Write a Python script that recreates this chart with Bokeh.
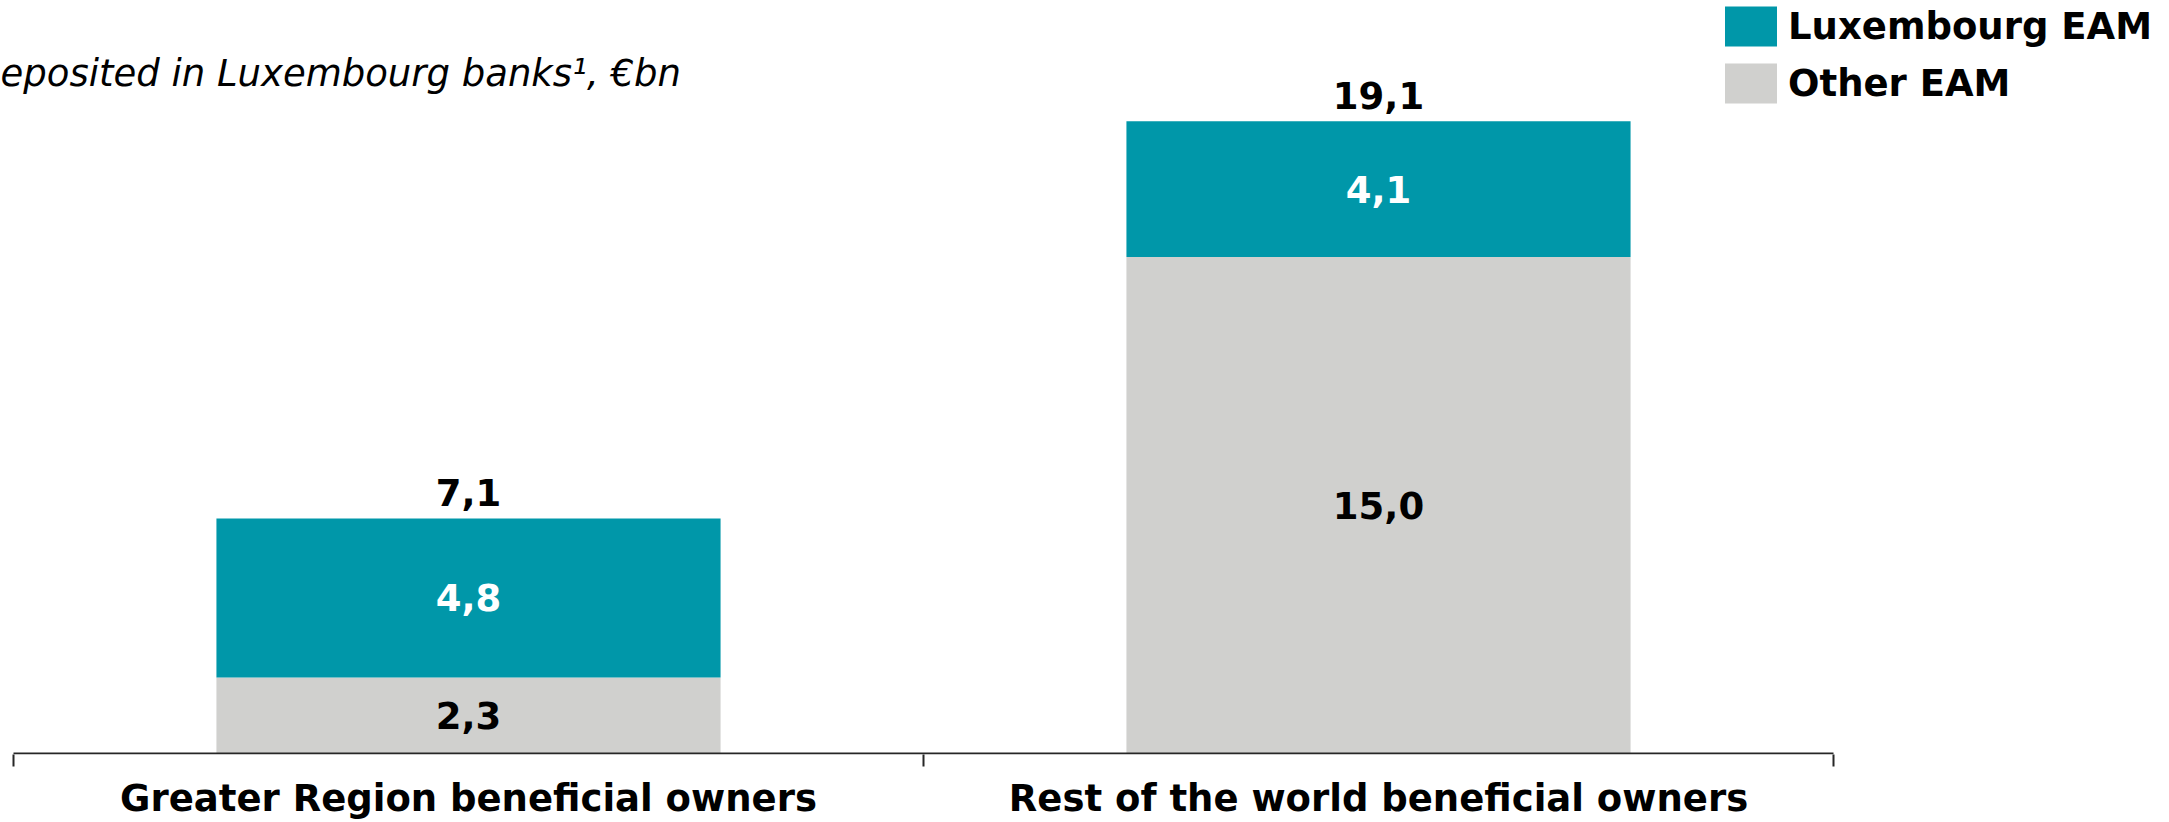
from bokeh.plotting import figure
from bokeh.models import (ColumnDataSource, Range1d, FixedTicker, Legend,
                          LegendItem, Label)
from bokeh.core.properties import value
from bokeh.embed import file_html
from bokeh.resources import INLINE

# ---------------- data ----------------
categories = ["Greater Region beneficial owners",
              "Rest of the world beneficial owners"]
series_names = ["Luxembourg EAM", "Other EAM"]
other_eam = [2.3, 15.0]
lux_eam = [4.8, 4.1]
totals = [7.1, 19.1]
subtitle = "eposited in Luxembourg banks\u00b9, \u20acbn"

# ---------------- style ----------------
TEAL = "#0097A9"
GRAY = "#D0D0CE"
AXIS = "#262626"
FONT = "DejaVu Sans"

W, H = 2169, 822
BOTTOM = 67
PX_Y = 33.14          # pixels per €bn
PX_X = 910            # pixels per category
X_OFF = 13
frame_h = H - BOTTOM
ys = -1.0 / PX_Y
xs0 = -X_OFF / PX_X


def fmt(v):
    return f"{v:.1f}".replace(".", ",")


xpos = [i + 0.5 for i in range(len(categories))]

src = ColumnDataSource(dict(
    x=xpos, other=other_eam, lux=lux_eam,
    tot=totals, tot_txt=[fmt(v) for v in totals],
    lux_mid=[o + l / 2 for o, l in zip(other_eam, lux_eam)],
    lux_txt=[fmt(v) for v in lux_eam],
    oth_mid=[o / 2 for o in other_eam],
    oth_txt=[fmt(v) for v in other_eam],
))

p = figure(width=W, height=H, output_backend="svg", toolbar_location=None,
           x_range=Range1d(xs0, xs0 + W / PX_X),
           y_range=Range1d(ys, ys + frame_h / PX_Y),
           y_axis_location=None,
           min_border_left=0, min_border_right=0, min_border_top=0,
           min_border_bottom=BOTTOM)
p.outline_line_color = None
p.xgrid.visible = False
p.ygrid.visible = False
p.background_fill_color = "white"

bars = p.vbar_stack(["other", "lux"], x="x", width=0.554, source=src,
                    color=[GRAY, TEAL], line_color=None)

# baseline
p.segment(x0=[0], y0=[0], x1=[len(categories)], y1=[0],
          line_color=AXIS, line_width=2)

# value labels
common = dict(text_font=value(FONT), text_font_style="bold",
              text_font_size="37px", text_align="center")
p.text(x="x", y="tot", text="tot_txt", source=src, y_offset=-26,
       text_baseline="alphabetic", text_color="black", **common)
p.text(x="x", y="lux_mid", text="lux_txt", source=src,
       text_baseline="middle", text_color="white", **common)
p.text(x="x", y="oth_mid", text="oth_txt", source=src,
       text_baseline="middle", text_color="black", **common)

# x axis
ax = p.xaxis[0]
ax.ticker = FixedTicker(ticks=xpos,
                        minor_ticks=list(range(len(categories) + 1)))
ax.major_label_overrides = {x: c for x, c in zip(xpos, categories)}
ax.axis_line_color = None
ax.major_tick_out = 0
ax.major_tick_in = 0
ax.minor_tick_out = 12
ax.minor_tick_in = 0
ax.minor_tick_line_color = AXIS
ax.minor_tick_line_width = 2
ax.major_label_text_font = FONT
ax.major_label_text_font_style = "bold"
ax.major_label_text_font_size = "37px"
ax.major_label_text_line_height = 1.0
ax.major_label_text_color = "black"
ax.major_label_standoff = 10

# subtitle
p.add_layout(Label(x=xs0, y=ys + (frame_h - 73) / PX_Y, text=subtitle,
                   text_font=FONT, text_font_style="italic",
                   text_font_size="37px", text_color="black",
                   text_baseline="alphabetic", text_align="left"))

# legend
legend = Legend(items=[LegendItem(label=series_names[0], renderers=[bars[1]]),
                       LegendItem(label=series_names[1], renderers=[bars[0]])],
                location=(1718, frame_h - 109),
                label_text_font=FONT, label_text_font_style="bold",
                label_text_font_size="37px", label_text_color="black",
                glyph_width=65, glyph_height=50, label_standoff=5,
                spacing=7, padding=0, margin=0,
                border_line_color=None, background_fill_alpha=0)
p.add_layout(legend)

open("out.html", "w").write(file_html(p, INLINE))
